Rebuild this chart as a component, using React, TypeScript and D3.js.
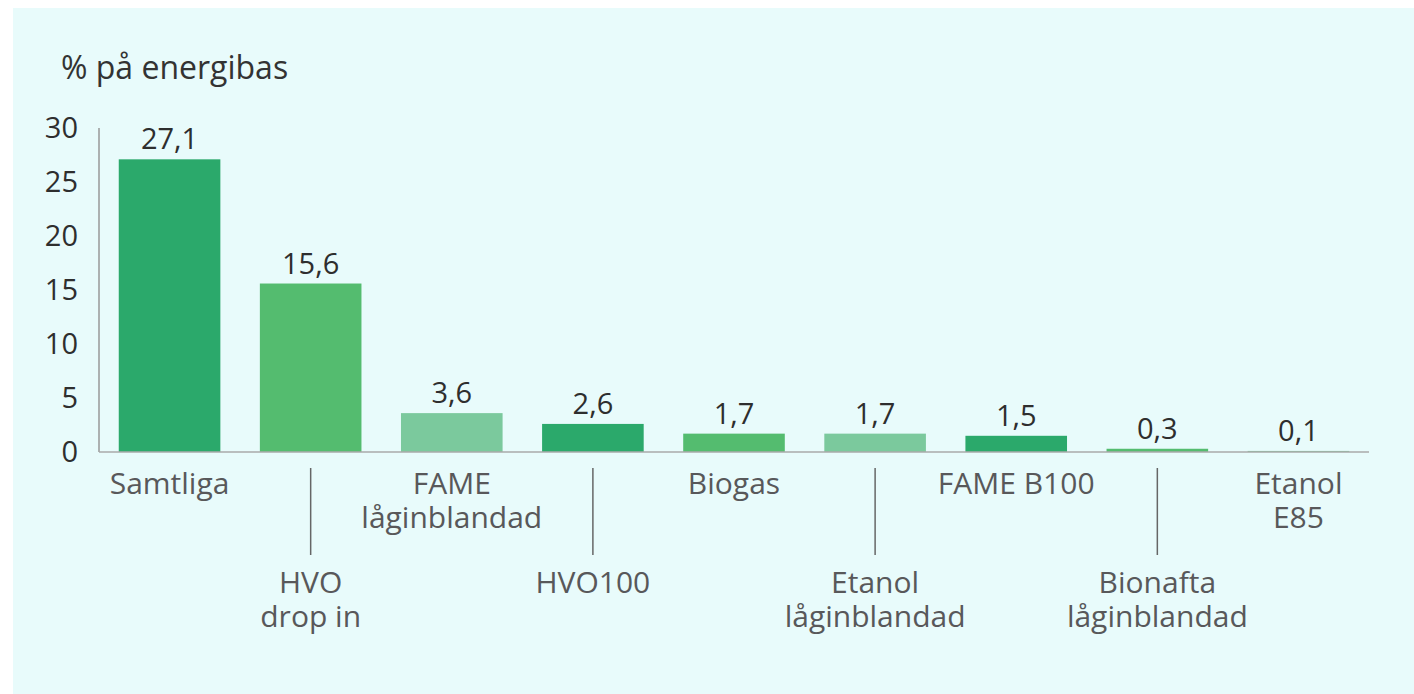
import React from "react";
import * as d3 from "d3";

const categories: string[][] = [
  ["Samtliga"],
  ["HVO", "drop in"],
  ["FAME", "låginblandad"],
  ["HVO100"],
  ["Biogas"],
  ["Etanol", "låginblandad"],
  ["FAME B100"],
  ["Bionafta", "låginblandad"],
  ["Etanol", "E85"],
];
const values: number[] = [27.1, 15.6, 3.6, 2.6, 1.7, 1.7, 1.5, 0.3, 0.1];
const valueLabels: string[] = ["27,1", "15,6", "3,6", "2,6", "1,7", "1,7", "1,5", "0,3", "0,1"];
const yTicks: number[] = [0, 5, 10, 15, 20, 25, 30];
const colors: string[] = ["#2ba96b", "#54bc6f", "#7bc99d"];
const yTitle = "% på energibas";

const W = 1414;
const H = 694;
const FONT = "'Open Sans', 'Noto Sans', sans-serif";

export default function App() {
  const x = d3
    .scaleBand<number>()
    .domain(values.map((_, i) => i))
    .range([99, 1369])
    .paddingInner(0.28)
    .paddingOuter(0.14);
  const y = d3.scaleLinear().domain([0, 30]).range([452, 128]);
  const bw = x.bandwidth();

  return (
    <svg
      width={W}
      height={H}
      style={{ position: "absolute", left: 0, top: 0, display: "block" }}
      fontFamily={FONT}
    >
      <rect x={13} y={8} width={W - 13} height={H - 8} fill="#e8fbfb" />
      <text x={61} y={79} fontSize={32} fill="#333">
        {yTitle}
      </text>
      {yTicks.map((t) => (
        <text key={t} x={78} y={y(t) + 10} fontSize={29} fill="#2e2e2e" textAnchor="end">
          {t}
        </text>
      ))}
      {values.map((v, i) => {
        const x0 = x(i)!;
        return (
          <g key={i}>
            <rect x={x0} y={y(v)} width={bw} height={y(0) - y(v)} fill={colors[i % 3]} />
            <text x={x0 + bw / 2} y={y(v) - 10} fontSize={29} fill="#2e2e2e" textAnchor="middle">
              {valueLabels[i]}
            </text>
          </g>
        );
      })}
      <line x1={99} x2={99} y1={128} y2={452} stroke="#999" strokeWidth={1.5} />
      <line x1={99} x2={1369} y1={452} y2={452} stroke="#aaa" strokeWidth={1.5} />
      {categories.map((lines, i) => {
        const cx = x(i)! + bw / 2;
        const low = i % 2 === 1;
        const base = low ? 593 : 494;
        return (
          <g key={i}>
            {low && <line x1={cx} x2={cx} y1={468} y2={555} stroke="#666" strokeWidth={1.5} />}
            {lines.map((l, j) => (
              <text
                key={j}
                x={cx}
                y={base + j * 34}
                fontSize={30}
                fill="#58585a"
                textAnchor="middle"
              >
                {l}
              </text>
            ))}
          </g>
        );
      })}
    </svg>
  );
}
